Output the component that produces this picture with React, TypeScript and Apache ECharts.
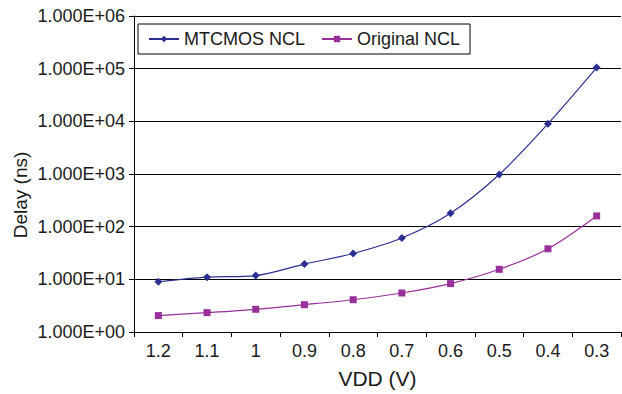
import React, { useEffect, useRef } from "react";
import * as echarts from "echarts";

const categories = ["1.2", "1.1", "1", "0.9", "0.8", "0.7", "0.6", "0.5", "0.4", "0.3"];
const mtcmosNcl = [9, 11, 11.8, 19.5, 31, 61, 180, 980, 9000, 105000];
const originalNcl = [2.05, 2.33, 2.7, 3.3, 4.1, 5.5, 8.3, 15.5, 38, 160];
const yTickLabels = ["1.000E+00", "1.000E+01", "1.000E+02", "1.000E+03", "1.000E+04", "1.000E+05", "1.000E+06"];

const FONT = "'Liberation Sans', Arial, sans-serif";

export default function App() {
  const ref = useRef<HTMLDivElement>(null);
  useEffect(() => {
    if (!ref.current) return;
    const chart = echarts.init(ref.current, undefined, { renderer: "svg" });
    chart.setOption({
      animation: false,
      backgroundColor: "#fff",
      textStyle: { fontFamily: FONT },
      grid: { left: 134, right: 1, top: 16, bottom: 62 },
      legend: {
        left: 138,
        top: 24,
        orient: "horizontal",
        borderColor: "#000",
        borderWidth: 1,
        borderRadius: 0,
        padding: [6, 10, 6, 10],
        itemWidth: 30,
        itemHeight: 8,
        itemGap: 16,
        textStyle: { fontSize: 18, color: "#1a1a1a", fontFamily: FONT },
        data: ["MTCMOS NCL", "Original NCL"],
      },
      graphic: [
        {
          type: "text",
          x: 20,
          y: 195,
          rotation: Math.PI / 2,
          style: {
            text: "Delay (ns)",
            font: `19px ${FONT}`,
            fill: "#1a1a1a",
            textAlign: "center",
            textVerticalAlign: "middle",
          },
        },
      ],
      xAxis: {
        type: "category",
        data: categories,
        boundaryGap: true,
        name: "VDD (V)",
        nameLocation: "middle",
        nameGap: 36,
        nameTextStyle: { fontSize: 21, color: "#1a1a1a", fontFamily: FONT },
        axisLine: { show: true, lineStyle: { color: "#000", width: 1 } },
        axisTick: { show: true, length: 5, interval: 0, lineStyle: { color: "#000" } },
        axisLabel: { fontSize: 18, color: "#1a1a1a", margin: 10, interval: 0, fontFamily: FONT },
        splitLine: { show: false },
      },
      yAxis: {
        type: "log",
        logBase: 10,
        min: 1,
        max: 1000000,
        axisLine: { show: true, lineStyle: { color: "#000", width: 1 } },
        axisTick: { show: true, length: 5, lineStyle: { color: "#000" } },
        axisLabel: {
          fontSize: 18,
          color: "#1a1a1a",
          margin: 9,
          fontFamily: FONT,
          formatter: (v: number) => {
            const e = Math.round(Math.log10(v));
            return yTickLabels[e] ?? String(v);
          },
        },
        splitLine: { show: true, lineStyle: { color: "#000", width: 1 } },
      },
      series: [
        {
          name: "MTCMOS NCL",
          type: "line",
          data: mtcmosNcl,
          smooth: 0.3,
          symbol: "diamond",
          symbolSize: 8,
          itemStyle: { color: "#2b2f93" },
          lineStyle: { color: "#2b2f93", width: 1.2 },
        },
        {
          name: "Original NCL",
          type: "line",
          data: originalNcl,
          smooth: 0.3,
          symbol: "rect",
          symbolSize: 7,
          itemStyle: { color: "#98309a" },
          lineStyle: { color: "#98309a", width: 1.2 },
        },
      ],
    });
    return () => chart.dispose();
  }, []);
  return <div ref={ref} style={{ width: 622, height: 394, position: "absolute", left: 0, top: 0 }} />;
}
